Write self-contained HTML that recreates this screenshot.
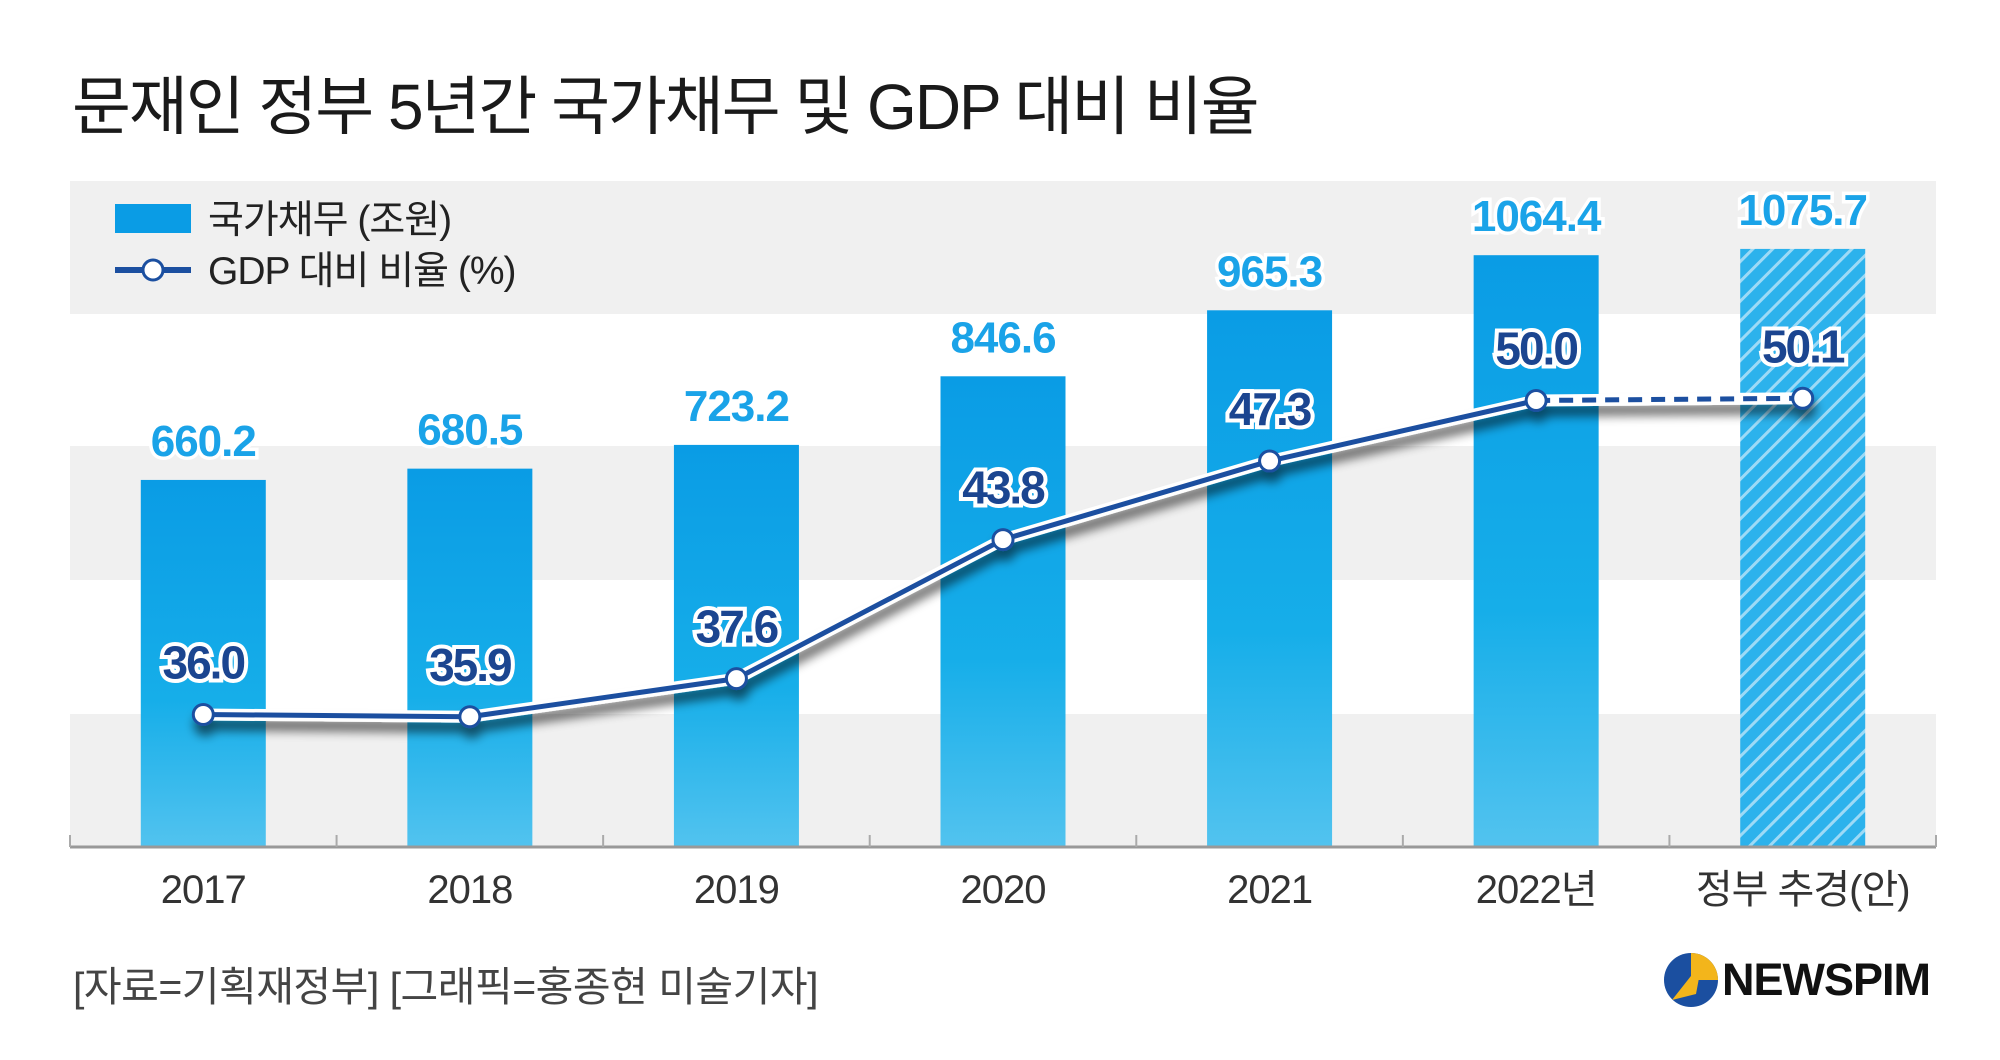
<!DOCTYPE html>
<html><head><meta charset="utf-8">
<style>
html,body{margin:0;padding:0;background:#fff;}
body{width:2000px;height:1060px;overflow:hidden;position:relative;font-family:"Liberation Sans","Noto Sans CJK KR",sans-serif;}
#title{position:absolute;left:72px;top:56px;font-size:64px;color:#1a1a1a;letter-spacing:-2px;white-space:nowrap;}
#credit{position:absolute;left:73px;top:953px;font-size:41px;color:#444;letter-spacing:-0.5px;white-space:nowrap;}
#logo{position:absolute;left:1662px;top:950px;height:60px;display:flex;align-items:center;}
</style></head>
<body>
<div id="title">문재인 정부 5년간 국가채무 및 GDP 대비 비율</div>
<svg id="chart" width="2000" height="1060" style="position:absolute;left:0;top:0">
<defs>
<linearGradient id="barg" x1="0" y1="0" x2="0" y2="1">
<stop offset="0" stop-color="#0a9ce5"/><stop offset="0.6" stop-color="#16aee9"/><stop offset="1" stop-color="#52c3ef"/>
</linearGradient>
<pattern id="hatch" width="14" height="14" patternUnits="userSpaceOnUse" patternTransform="rotate(45)">
<rect width="14" height="14" fill="#2cb2ec"/><rect width="3" height="14" fill="#9ddaf6"/>
</pattern>
<filter id="shadow" x="-10%" y="-20%" width="120%" height="160%">
<feGaussianBlur in="SourceAlpha" stdDeviation="5"/><feOffset dx="2" dy="10" result="b"/>
<feComponentTransfer><feFuncA type="linear" slope="0.55"/></feComponentTransfer>
<feMerge><feMergeNode/><feMergeNode in="SourceGraphic"/></feMerge>
</filter>
</defs>
<g id="bands"></g>
<g id="bars"></g>
<g id="barlabels"></g>
<g id="axis"></g>
<g id="line"></g>
<g id="legend">
<rect x="115" y="204" width="76" height="29" fill="#0a9ce5"/>
<text x="208" y="233" font-size="39" fill="#222" letter-spacing="-1">국가채무 (조원)</text>
<line x1="115" y1="270" x2="191" y2="270" stroke="#1b4fa0" stroke-width="6"/>
<circle cx="153" cy="270" r="10" fill="#fff" stroke="#1b4fa0" stroke-width="3"/>
<text x="208" y="284" font-size="39" fill="#222" letter-spacing="-1">GDP 대비 비율 (%)</text>
</g>
</svg>
<div id="credit">[자료=기획재정부] [그래픽=홍종현 미술기자]</div>
<div id="logo">
<svg width="58" height="60"><circle cx="29" cy="30" r="27" fill="#1b4fa0"/><path d="M29 3 A27 27 0 0 1 56 30 L29 30 Z" fill="#f3b51b"/><path d="M10 50 L40 12 L34 44 Z" fill="#f3b51b"/></svg>
<span style="font-weight:bold;font-size:45px;color:#111;margin-left:2px;letter-spacing:-1px">NEWSPIM</span>
</div>
<script>
const categories = ["2017","2018","2019","2020","2021","2022년","정부 추경(안)"];
const debtValues = [660.2,680.5,723.2,846.6,965.3,1064.4,1075.7];
const ratioValues = [36.0,35.9,37.6,43.8,47.3,50.0,50.1];
const debtLabels = ["660.2","680.5","723.2","846.6","965.3","1064.4","1075.7"];
const ratioLabels = ["36.0","35.9","37.6","43.8","47.3","50.0","50.1"];

const NS="http://www.w3.org/2000/svg";
const plotL=70, plotR=1936, base=847;
const step=(plotR-plotL)/categories.length;
function xPos(i){return plotL+step*(i+0.5);}
function yDebt(v){return base - v*0.556;}
function yRatio(v){return 1522 - v*22.43;}
function mk(tag,attrs,parent){const e=document.createElementNS(NS,tag);for(const k in attrs)e.setAttribute(k,attrs[k]);document.getElementById(parent).appendChild(e);return e;}

[[181,314],[446,580],[714,847]].forEach(b=>{
  const r=mk('rect',{x:plotL,y:b[0],width:plotR-plotL,height:b[1]-b[0],fill:'#f0f0f0'},'bands');
  
  
});

const bw=125;
debtValues.forEach((v,i)=>{
  const y=yDebt(v);
  const r=mk('rect',{x:xPos(i)-bw/2,y:y,width:bw,height:base-y,fill:i===6?'url(#hatch)':'url(#barg)'},'bars');
  
  
  const t=mk('text',{x:xPos(i),y:y-24,'text-anchor':'middle','font-size':44,'font-weight':'bold',fill:'#1aa3e8',stroke:'#fff','stroke-width':7,'paint-order':'stroke','letter-spacing':'-1'},'barlabels');
  t.textContent=debtLabels[i];
  
  
});

const ax=mk('line',{x1:plotL,y1:base,x2:plotR,y2:base,stroke:'#999','stroke-width':3},'axis');


for(let i=0;i<=categories.length;i++){
  const tk=mk('line',{x1:plotL+step*i,y1:base-12,x2:plotL+step*i,y2:base,stroke:'#aaa','stroke-width':2},'axis');
  
  
}
categories.forEach((c,i)=>{
  const t=mk('text',{x:xPos(i),y:903,'text-anchor':'middle','font-size':40,fill:'#333','letter-spacing':'-1'},'axis');
  t.textContent=c;
  
  
});

let d='';
for(let i=0;i<6;i++) d+=(i?'L':'M')+xPos(i)+' '+yRatio(ratioValues[i]);
const g=mk('g',{filter:'url(#shadow)'},'line');


const ws=document.createElementNS(NS,'path');ws.setAttribute('d',d);ws.setAttribute('stroke','#fff');ws.setAttribute('stroke-width','12');ws.setAttribute('fill','none');ws.setAttribute('stroke-linejoin','round');g.appendChild(ws);


const p=document.createElementNS(NS,'path');p.setAttribute('d',d);p.setAttribute('stroke','#1b4fa0');p.setAttribute('stroke-width','5');p.setAttribute('fill','none');p.setAttribute('stroke-linejoin','round');g.appendChild(p);


const d2='M'+xPos(5)+' '+yRatio(ratioValues[5])+'L'+xPos(6)+' '+yRatio(ratioValues[6]);
const ws2=document.createElementNS(NS,'path');ws2.setAttribute('d',d2);ws2.setAttribute('stroke','#fff');ws2.setAttribute('stroke-width','12');ws2.setAttribute('fill','none');g.appendChild(ws2);


const p2=document.createElementNS(NS,'path');p2.setAttribute('d',d2);p2.setAttribute('stroke','#1b4fa0');p2.setAttribute('stroke-width','5');p2.setAttribute('stroke-dasharray','14 9');p2.setAttribute('fill','none');g.appendChild(p2);


ratioValues.forEach((v,i)=>{
  const c=document.createElementNS(NS,'circle');
  c.setAttribute('cx',xPos(i));c.setAttribute('cy',yRatio(v));c.setAttribute('r',10);
  c.setAttribute('fill','#fff');c.setAttribute('stroke','#1b4fa0');c.setAttribute('stroke-width',3);
  g.appendChild(c);
  
  
});
ratioValues.forEach((v,i)=>{
  const t=mk('text',{x:xPos(i),y:yRatio(v)-36,'text-anchor':'middle','font-size':46,'font-weight':'bold',fill:'#1b4590',stroke:'#fff','stroke-width':8,'paint-order':'stroke','letter-spacing':'-2'},'line');
  t.textContent=ratioLabels[i];
  
  
});
</script>
</body></html>
